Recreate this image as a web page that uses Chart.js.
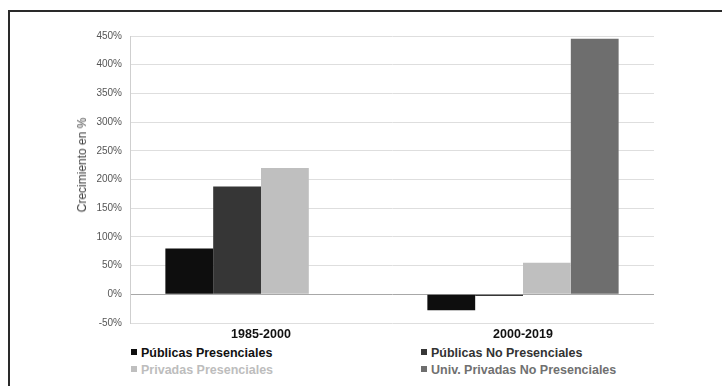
<!DOCTYPE html>
<html lang="es">
<head>
  <meta charset="UTF-8">
  <title>Crecimiento en %</title>
  <script src="https://cdn.jsdelivr.net/npm/chart.js"></script>
  <style>
    body {
      margin: 0;
      width: 722px;
      height: 386px;
      overflow: hidden;
      background: #fff;
      font-family: "Liberation Sans", Arial, sans-serif;
      position: relative;
    }
    .frame {
      position: absolute;
      left: 8px;
      top: 10px;
      width: 800px;
      height: 400px;
      border-top: 2px solid #2a2a2a;
      border-left: 2px solid #2a2a2a;
    }
    .chart-box {
      position: absolute;
      left: 0;
      top: 0;
      width: 722px;
      height: 345px;
    }
    .y-title {
      position: absolute;
      left: 82px;
      top: 165px;
      transform: translate(-50%, -50%) rotate(-90deg);
      white-space: nowrap;
      font-size: 12px;
      color: #444;
    }
    .legend {
      position: absolute;
      left: 0;
      top: 345px;
      width: 722px;
    }
    .legend-item {
      position: absolute;
      font-size: 12.5px;
      font-weight: bold;
      white-space: nowrap;
      line-height: 17px;
    }
    .legend-item span.box {
      display: inline-block;
      width: 6px;
      height: 6px;
      margin-right: 4px;
      vertical-align: 2px;
    }
  </style>
</head>
<body>
<div class="frame"></div>
<div class="chart-box"><canvas id="chart"></canvas></div>
<div class="y-title">Crecimiento en %</div>
<div class="legend" id="legend"></div>

<script>
  const categories = ['1985-2000', '2000-2019'];
  const seriesNames = ['Públicas Presenciales', 'Públicas No Presenciales', 'Privadas Presenciales', 'Univ. Privadas No Presenciales'];
  const publicasPresenciales = [80, -28];
  const publicasNoPresenciales = [188, -3];
  const privadasPresenciales = [220, 55];
  const univPrivadasNoPresenciales = [null, 445];
  const yMin = -50, yMax = 450, yStep = 50;

  const barColors = ['#0e0e0e', '#363636', '#bfbfbf', '#6e6e6e'];
  const textColors = ['#111111', '#333333', '#bdbdbd', '#707070'];
  const seriesData = [publicasPresenciales, publicasNoPresenciales, privadasPresenciales, univPrivadasNoPresenciales];

  // leyenda en dos columnas, dos filas
  const legendPos = [[131, 0], [421, 0], [131, 17], [421, 17]];
  const legend = document.getElementById('legend');
  seriesNames.forEach((name, i) => {
    const item = document.createElement('div');
    item.className = 'legend-item';
    item.style.left = legendPos[i][0] + 'px';
    item.style.top = legendPos[i][1] + 'px';
    item.style.color = textColors[i];
    const box = document.createElement('span');
    box.className = 'box';
    box.style.background = barColors[i];
    item.appendChild(box);
    item.appendChild(document.createTextNode(name));
    legend.appendChild(item);
  });

  new Chart(document.getElementById('chart'), {
    type: 'bar',
    data: {
      labels: categories,
      datasets: seriesNames.map((name, i) => ({
        label: name,
        data: seriesData[i],
        backgroundColor: barColors[i],
        borderWidth: 0
      }))
    },
    options: {
      responsive: true,
      maintainAspectRatio: false,
      animation: false,
      layout: { padding: { left: 71, right: 68, top: 36, bottom: 0 } },
      datasets: {
        bar: { categoryPercentage: 0.73, barPercentage: 1 }
      },
      plugins: {
        legend: { display: false },
        tooltip: { enabled: false }
      },
      scales: {
        x: {
          grid: { display: false, drawTicks: false },
          border: { display: false },
          ticks: {
            color: '#111',
            padding: 4,
            font: { family: '"Liberation Sans", Arial, sans-serif', size: 12.5, weight: 'bold' }
          },
          afterFit: (scale) => { scale.height = 22; }
        },
        y: {
          min: yMin,
          max: yMax,
          border: { display: true, color: '#cfcfcf' },
          grid: {
            drawTicks: false,
            color: (c) => (c.tick && c.tick.value === 0 ? '#a8a8a8' : '#dedede')
          },
          ticks: {
            stepSize: yStep,
            padding: 8,
            color: '#555',
            font: { family: '"Liberation Sans", Arial, sans-serif', size: 10 },
            callback: (v) => v + '%'
          },
          afterFit: (scale) => { scale.width = 59; }
        }
      }
    }
  });
</script>
</body>
</html>
